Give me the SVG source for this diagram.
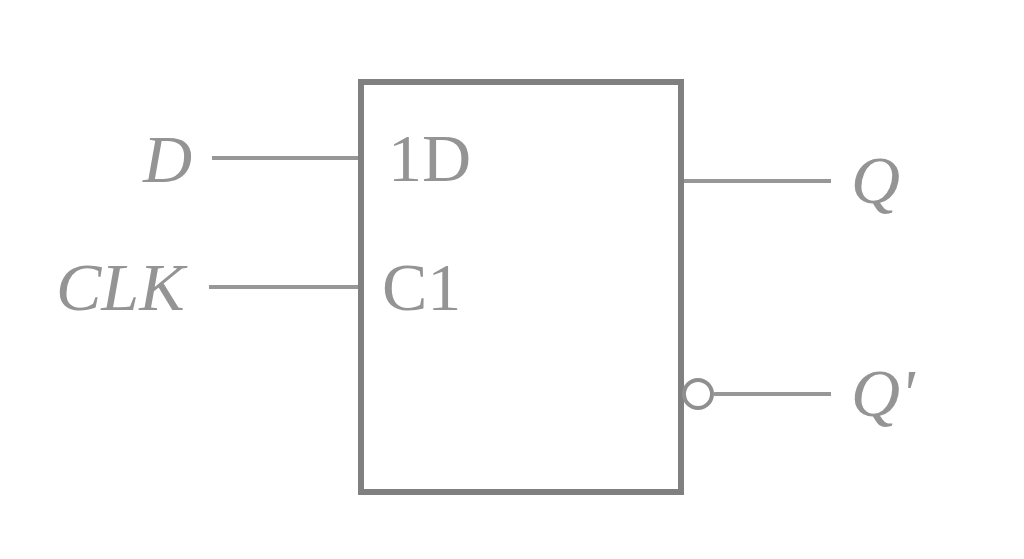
<svg xmlns="http://www.w3.org/2000/svg" width="1024" height="559" viewBox="0 0 1024 559">
<style>
.l{stroke:#979797;stroke-width:4;fill:none}
.t{font-family:"Liberation Serif",serif;font-size:68px;fill:#949494}
.i{font-style:italic}
</style>
<rect width="1024" height="559" fill="#ffffff"/>
<g id="connectors">
<path class="l" d="M212 158H360"/>
<path class="l" d="M209 287H360"/>
<path class="l" d="M682 181H831"/>
<path class="l" d="M714 394H831"/>
</g>
<g id="flipflop">
<rect x="361" y="82" width="320" height="410" fill="#fff" stroke="#808080" stroke-width="6"/>
<text class="t" x="388" y="181">1D</text>
<text class="t" x="382" y="310">C1</text>
</g>
<g id="bubble"><circle cx="698" cy="394" r="14" fill="#fff" stroke="#8f8f8f" stroke-width="4"/></g>
<g id="D"><text class="t i" x="143" y="182">D</text></g>
<g id="CLK"><text class="t i" x="56" y="310">CLK</text></g>
<g id="Q"><text class="t i" x="851" y="203">Q</text></g>
<g id="Qn"><text class="t i" x="851" y="416">Q'</text></g>
</svg>
